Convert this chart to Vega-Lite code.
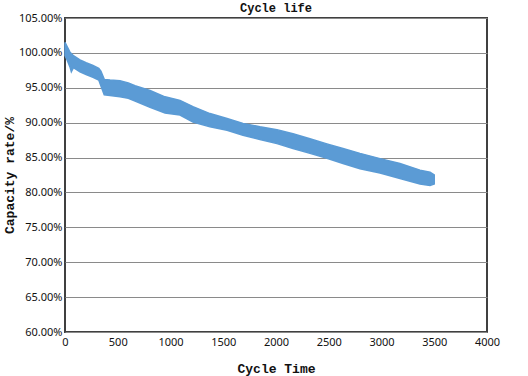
{
  "$schema": "https://vega.github.io/schema/vega-lite/v6.json",
  "width": 422,
  "height": 314,
  "autosize": {"type": "none"},
  "padding": {"left": 65, "top": 18, "right": 41, "bottom": 44},
  "background": "white",
  "title": {
    "text": "Cycle life",
    "font": "Liberation Mono",
    "fontSize": 12,
    "fontWeight": "bold",
    "color": "#111111",
    "anchor": "middle",
    "offset": 4,
    "dy": 7
  },
  "config": {
    "view": {"stroke": "#404040", "strokeWidth": 2},
    "axis": {
      "labelFont": "Noto Sans",
      "labelFontSize": 11,
      "labelColor": "#111111",
      "titleFont": "Liberation Mono",
      "titleFontSize": 13,
      "titleFontWeight": "bold",
      "titleColor": "#111111",
      "domain": false,
      "ticks": false
    }
  },
  "data": {
    "values": [
      {"cycle": 0, "top": 1.015, "bottom": 0.996},
      {"cycle": 20, "top": 1.009, "bottom": 0.99},
      {"cycle": 47, "top": 1.001, "bottom": 0.98},
      {"cycle": 60, "top": 0.999, "bottom": 0.973},
      {"cycle": 80, "top": 0.996, "bottom": 0.979},
      {"cycle": 142, "top": 0.99, "bottom": 0.973},
      {"cycle": 200, "top": 0.986, "bottom": 0.969},
      {"cycle": 265, "top": 0.982, "bottom": 0.965},
      {"cycle": 320, "top": 0.978, "bottom": 0.961},
      {"cycle": 340, "top": 0.974, "bottom": 0.953},
      {"cycle": 372, "top": 0.962, "bottom": 0.94},
      {"cycle": 427, "top": 0.961, "bottom": 0.939},
      {"cycle": 521, "top": 0.96, "bottom": 0.937},
      {"cycle": 600, "top": 0.957, "bottom": 0.935},
      {"cycle": 664, "top": 0.953, "bottom": 0.931},
      {"cycle": 806, "top": 0.946, "bottom": 0.922},
      {"cycle": 948, "top": 0.937, "bottom": 0.914},
      {"cycle": 1090, "top": 0.932, "bottom": 0.911},
      {"cycle": 1213, "top": 0.923, "bottom": 0.901},
      {"cycle": 1374, "top": 0.913, "bottom": 0.894},
      {"cycle": 1536, "top": 0.906, "bottom": 0.889},
      {"cycle": 1687, "top": 0.899, "bottom": 0.882},
      {"cycle": 1848, "top": 0.894, "bottom": 0.876},
      {"cycle": 2009, "top": 0.89, "bottom": 0.87},
      {"cycle": 2161, "top": 0.884, "bottom": 0.863},
      {"cycle": 2322, "top": 0.877, "bottom": 0.856},
      {"cycle": 2483, "top": 0.8696, "bottom": 0.849},
      {"cycle": 2635, "top": 0.863, "bottom": 0.8415},
      {"cycle": 2796, "top": 0.856, "bottom": 0.834},
      {"cycle": 2986, "top": 0.8485, "bottom": 0.828},
      {"cycle": 3175, "top": 0.8415, "bottom": 0.82},
      {"cycle": 3365, "top": 0.832, "bottom": 0.812},
      {"cycle": 3460, "top": 0.829, "bottom": 0.81},
      {"cycle": 3500, "top": 0.825, "bottom": 0.812}
    ]
  },
  "mark": {"type": "area", "color": "#5b9bd5", "stroke": "#5b9bd5", "strokeWidth": 1.5},
  "encoding": {
    "x": {
      "field": "cycle",
      "type": "quantitative",
      "scale": {"domain": [0, 4000], "nice": false},
      "axis": {
        "title": "Cycle Time",
        "format": "d",
        "values": [0, 500, 1000, 1500, 2000, 2500, 3000, 3500, 4000],
        "grid": false,
        "labelPadding": 4,
        "titlePadding": 15,
        "labelFlush": false
      }
    },
    "y": {
      "field": "top",
      "type": "quantitative",
      "scale": {"domain": [0.6, 1.05], "nice": false, "zero": false},
      "axis": {
        "title": "Capacity rate/%",
        "format": ".2%",
        "values": [0.6, 0.65, 0.7, 0.75, 0.8, 0.85, 0.9, 0.95, 1.0, 1.05],
        "grid": true,
        "gridColor": "#8a8a8a",
        "gridWidth": 1,
        "labelPadding": 3,
        "titlePadding": 2,
        "labelFlush": false
      }
    },
    "y2": {"field": "bottom"}
  }
}
